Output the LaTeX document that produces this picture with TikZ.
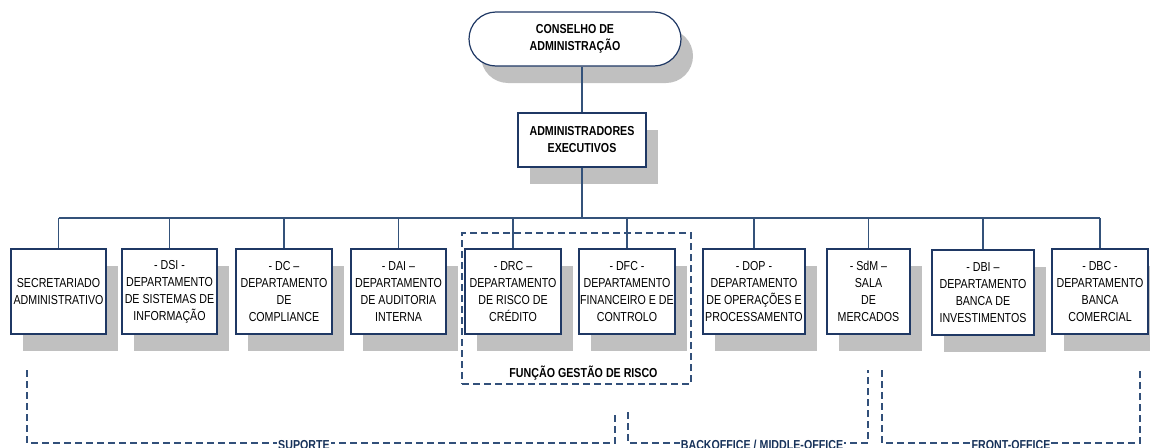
\documentclass[tikz,border=0pt]{standalone}
\usepackage{fontspec}
\setmainfont[FakeStretch=0.82]{Liberation Sans}
\usetikzlibrary{shapes.misc,shadows}

\definecolor{boxblue}{RGB}{31,56,100}
\definecolor{linkblue}{RGB}{52,82,122}
\definecolor{dashblue}{RGB}{50,80,122}
\definecolor{labelblue}{RGB}{23,50,90}
\definecolor{shadowgray}{RGB}{192,192,192}

\newcommand{\orgfont}{\fontsize{13}{17}\selectfont}

\begin{document}
\begin{tikzpicture}[x=1pt,y=-1pt,
  shadowed/.style={drop shadow={shadow xshift=12pt,shadow yshift=-17pt,opacity=1,fill=shadowgray}},
  orgbox/.style={shadowed,draw=boxblue,line width=1.2pt,fill=white,align=center,
    inner sep=1pt,font=\orgfont,minimum height=85pt},
  topbox/.style={shadowed,draw=boxblue,line width=1.2pt,fill=white,align=center,
    inner sep=1pt,font=\orgfont\bfseries,minimum height=54pt},
  link/.style={draw=linkblue,line width=1.2pt},
  groupline/.style={draw=dashblue,line width=1.1pt,dash pattern=on 7pt off 4pt},
  grouplabel/.style={font=\orgfont\bfseries,inner sep=1pt},
  arealabel/.style={font=\orgfont\bfseries,text=labelblue,fill=white,inner sep=1pt}]

\useasboundingbox (0,0) rectangle (1150,447);
\clip (0,0) rectangle (1150,447);

% board and executive committee
\node[topbox,rounded rectangle,minimum width=214pt] (ceo) at (575,39)
  {CONSELHO DE\\ADMINISTRAÇÃO};
\node[topbox,rectangle,minimum width=128pt] (exec) at (582,140)
  {ADMINISTRADORES\\EXECUTIVOS};

% departments
\node[orgbox,minimum width=95pt]  (sa)  at (58.5,291.5) {SECRETARIADO\\ADMINISTRATIVO};
\node[orgbox,minimum width=95pt]  (dsi) at (169.5,291.5) {- DSI -\\DEPARTAMENTO\\DE SISTEMAS DE\\INFORMAÇÃO};
\node[orgbox,minimum width=96pt]  (dc)  at (284,291.5) {- DC –\\DEPARTAMENTO\\DE\\COMPLIANCE};
\node[orgbox,minimum width=95pt]  (dai) at (398.5,291.5) {- DAI –\\DEPARTAMENTO\\DE AUDITORIA\\INTERNA};
\node[orgbox,minimum width=96pt]  (drc) at (513,291.5) {- DRC –\\DEPARTAMENTO\\DE RISCO DE\\CRÉDITO};
\node[orgbox,minimum width=96pt]  (dfc) at (627,291.5) {- DFC -\\DEPARTAMENTO\\FINANCEIRO E DE\\CONTROLO};
\node[orgbox,minimum width=102pt] (dop) at (754,291.5) {- DOP -\\DEPARTAMENTO\\DE OPERAÇÕES E\\PROCESSAMENTO};
\node[orgbox,minimum width=83pt]  (sdm) at (868.5,291.5) {- SdM –\\SALA\\DE\\MERCADOS};
\node[orgbox,minimum width=102pt] (dbi) at (983,292.5) {- DBI –\\DEPARTAMENTO\\BANCA DE\\INVESTIMENTOS};
\node[orgbox,minimum width=96pt]  (dbc) at (1100,291.5) {- DBC -\\DEPARTAMENTO\\BANCA\\COMERCIAL};

% reporting lines
\coordinate (bus) at (0,218);
\draw[link] (exec.north) -- (exec.north |- ceo.south);
\draw[link] (exec.south) -- (exec.south |- bus);
\draw[link] (sa.north |- bus) -- (dbc.north |- bus);
\foreach \d in {sa,dsi,dc,dai,drc,dfc,dop,sdm,dbi,dbc}
  \draw[link] (\d.north) -- (\d.north |- bus);

% risk management function
\node[groupline,draw,minimum width=229pt,minimum height=151pt,inner sep=0pt] (risk) at (576.5,308.5) {};
\node[grouplabel] (risklabel) at (583.5,373) {FUNÇÃO GESTÃO DE RISCO};

% business areas
\draw[groupline] (27,370) -- (27,443) -- (615,443) -- (615,412);
\draw[groupline] (628,412) -- (628,443) -- (868,443) -- (868,370);
\draw[groupline] (882,370) -- (882,443) -- (1140,443) -- (1140,370);
\node[arealabel] (suporte) at (304,445) {SUPORTE};
\node[arealabel] (backoffice) at (762,445) {BACKOFFICE / MIDDLE-OFFICE};
\node[arealabel] (frontoffice) at (1011,445) {FRONT-OFFICE};
\end{tikzpicture}
\end{document}
